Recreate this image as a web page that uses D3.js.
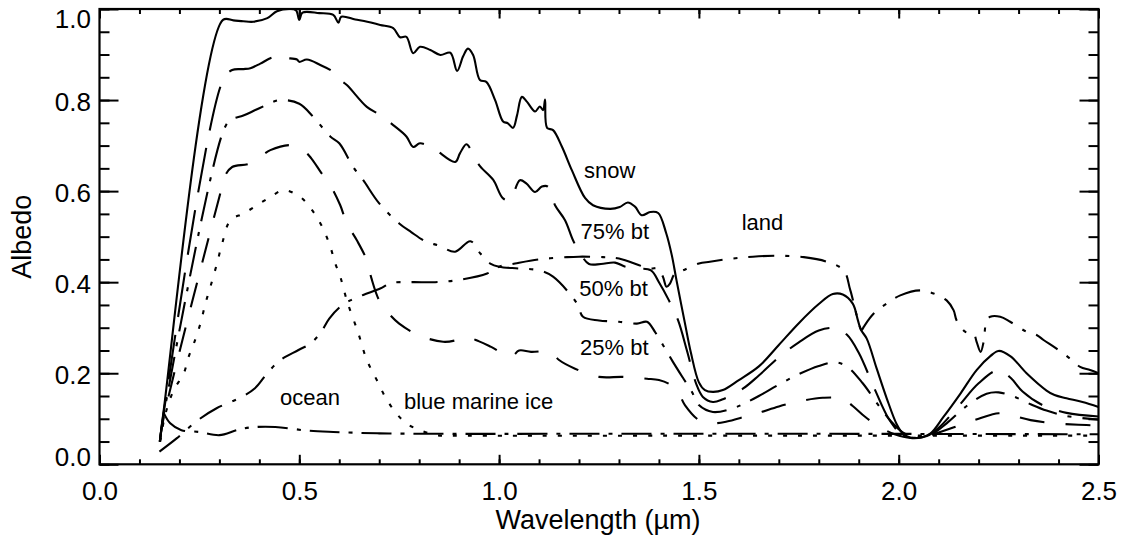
<!DOCTYPE html>
<html>
<head>
<meta charset="utf-8">
<script src="https://cdn.jsdelivr.net/npm/d3@7"></script>
<style>
  body { margin: 0; background: #fff; }
  svg { display: block; }
  text { font-family: "Liberation Sans", Arial, Helvetica, sans-serif; fill: #000; }
</style>
</head>
<body>
<svg id="chart" width="1124" height="538"></svg>
<script>
// Axis ticks
const wavelengthTicks = [0.0, 0.5, 1.0, 1.5, 2.0, 2.5];
const wavelengthMinorTicks = d3.range(0, 2.51, 0.1).map(v => +v.toFixed(2));
const albedoTicks = [0.0, 0.2, 0.4, 0.6, 0.8, 1.0];
const albedoMinorTicks = d3.range(0, 1.001, 0.05).map(v => +v.toFixed(2));

// Spectral albedo, [wavelength (µm), albedo]
const snowAlbedo = [[0.151,0.05],[0.16,0.114],[0.309,0.976],[0.335,0.975],[0.36,0.973],[0.385,0.972],[0.42,0.98],[0.444,0.995],[0.478,1.0],[0.492,0.997],[0.5,0.976],[0.508,0.992],[0.55,0.991],[0.585,0.987],[0.598,0.97],[0.605,0.983],[0.64,0.977],[0.67,0.972],[0.7025,0.965],[0.735,0.958],[0.752,0.938],[0.768,0.939],[0.785,0.903],[0.802,0.917],[0.828,0.91],[0.853,0.899],[0.878,0.904],[0.895,0.864],[0.91,0.896],[0.922,0.913],[0.935,0.899],[0.952,0.844],[0.968,0.84],[0.99,0.8],[1.01,0.753],[1.022,0.749],[1.035,0.739],[1.045,0.767],[1.057,0.807],[1.07,0.796],[1.09,0.775],[1.102,0.786],[1.11,0.778],[1.115,0.801],[1.12,0.739],[1.135,0.734],[1.157,0.698],[1.182,0.646],[1.215,0.585],[1.235,0.569],[1.278,0.561],[1.302,0.565],[1.322,0.575],[1.34,0.566],[1.357,0.547],[1.378,0.554],[1.398,0.552],[1.418,0.508],[1.432,0.46],[1.444,0.404],[1.465,0.31],[1.48,0.245],[1.5,0.18],[1.515,0.163],[1.535,0.159],[1.56,0.163],[1.6,0.185],[1.65,0.215],[1.7,0.262],[1.75,0.31],[1.8,0.352],[1.835,0.374],[1.86,0.373],[1.885,0.353],[1.898,0.316],[1.905,0.296],[1.92,0.276],[1.945,0.21],[1.97,0.145],[1.995,0.088],[2.01,0.068],[2.03,0.058],[2.06,0.06],[2.08,0.068],[2.112,0.104],[2.155,0.156],[2.195,0.207],[2.23,0.238],[2.25,0.249],[2.28,0.237],[2.32,0.2],[2.37,0.162],[2.39,0.152],[2.42,0.145],[2.46,0.137],[2.5,0.126]];

const bt75Albedo = [[0.151,0.05],[0.16,0.11],[0.309,0.844],[0.332,0.866],[0.36,0.868],[0.3775,0.87],[0.4025,0.88],[0.435,0.894],[0.47,0.892],[0.494,0.889],[0.5,0.884],[0.519,0.889],[0.5525,0.877],[0.585,0.862],[0.6025,0.844],[0.619,0.833],[0.669,0.785],[0.7025,0.767],[0.735,0.745],[0.768,0.72],[0.785,0.697],[0.802,0.705],[0.835,0.694],[0.89,0.664],[0.902,0.683],[0.918,0.703],[0.93,0.69],[0.947,0.661],[0.957,0.65],[0.985,0.625],[1.01,0.584],[1.027,0.58],[1.052,0.624],[1.068,0.617],[1.09,0.598],[1.107,0.61],[1.122,0.61],[1.14,0.569],[1.165,0.536],[1.185,0.492],[1.203,0.463],[1.225,0.44],[1.255,0.44],[1.29,0.443],[1.316,0.434],[1.345,0.43],[1.38,0.426],[1.40,0.40],[1.425,0.36],[1.448,0.316],[1.47,0.25],[1.494,0.175],[1.51,0.148],[1.535,0.137],[1.56,0.143],[1.61,0.166],[1.65,0.195],[1.7,0.235],[1.75,0.268],[1.8,0.294],[1.84,0.299],[1.87,0.285],[1.9,0.245],[1.94,0.165],[1.975,0.1],[2.005,0.068],[2.04,0.058],[2.07,0.062],[2.1,0.08],[2.15,0.128],[2.2,0.178],[2.25,0.207],[2.28,0.19],[2.31,0.16],[2.36,0.13],[2.42,0.113],[2.5,0.105]];

const bt50Albedo = [[0.151,0.05],[0.16,0.105],[0.309,0.73],[0.3275,0.756],[0.36,0.766],[0.39,0.778],[0.42,0.79],[0.45,0.80],[0.5,0.792],[0.535,0.763],[0.5775,0.72],[0.6,0.705],[0.635,0.653],[0.66,0.624],[0.7,0.573],[0.75,0.529],[0.78,0.51],[0.815,0.49],[0.85,0.48],[0.89,0.467],[0.928,0.49],[0.953,0.463],[0.978,0.441],[1.0,0.434],[1.05,0.43],[1.1,0.426],[1.135,0.412],[1.195,0.353],[1.21,0.324],[1.25,0.316],[1.3,0.313],[1.345,0.309],[1.37,0.313],[1.39,0.291],[1.41,0.262],[1.435,0.225],[1.46,0.19],[1.482,0.16],[1.5,0.13],[1.535,0.115],[1.585,0.123],[1.6125,0.133],[1.65,0.15],[1.7,0.175],[1.75,0.198],[1.8,0.216],[1.84,0.224],[1.87,0.215],[1.91,0.178],[1.945,0.135],[1.98,0.095],[2.01,0.07],[2.04,0.06],[2.08,0.065],[2.12,0.09],[2.17,0.128],[2.22,0.155],[2.25,0.158],[2.29,0.148],[2.33,0.132],[2.37,0.118],[2.42,0.106],[2.5,0.098]];

const bt25Albedo = [[0.151,0.05],[0.16,0.1],[0.309,0.617],[0.315,0.635],[0.332,0.653],[0.3775,0.661],[0.4275,0.69],[0.48,0.701],[0.51,0.69],[0.53,0.672],[0.555,0.64],[0.5775,0.613],[0.6025,0.569],[0.619,0.529],[0.644,0.492],[0.669,0.448],[0.68,0.41],[0.7,0.36],[0.725,0.33],[0.75,0.309],[0.8,0.283],[0.86,0.269],[0.89,0.272],[0.915,0.28],[0.95,0.27],[0.98,0.258],[1.03,0.236],[1.05,0.25],[1.08,0.247],[1.13,0.247],[1.15,0.229],[1.19,0.21],[1.25,0.192],[1.31,0.192],[1.37,0.188],[1.40,0.185],[1.43,0.174],[1.45,0.155],[1.465,0.13],[1.5,0.097],[1.53,0.09],[1.57,0.094],[1.6125,0.104],[1.65,0.113],[1.7,0.127],[1.75,0.138],[1.81,0.146],[1.86,0.144],[1.885,0.128],[1.915,0.105],[1.95,0.083],[1.99,0.066],[2.03,0.058],[2.07,0.062],[2.1,0.07],[2.15,0.085],[2.2,0.1],[2.25,0.112],[2.28,0.108],[2.33,0.097],[2.39,0.09],[2.45,0.087],[2.5,0.085]];

const blueIceAlbedo = [[0.152,0.05],[0.162,0.1],[0.173,0.134],[0.187,0.165],[0.211,0.2],[0.223,0.236],[0.236,0.265],[0.2525,0.309],[0.265,0.353],[0.2775,0.39],[0.294,0.441],[0.307,0.485],[0.3275,0.536],[0.361,0.551],[0.394,0.569],[0.4275,0.587],[0.46,0.602],[0.5025,0.587],[0.532,0.558],[0.557,0.522],[0.5775,0.478],[0.59,0.441],[0.6025,0.412],[0.619,0.36],[0.648,0.287],[0.669,0.229],[0.694,0.185],[0.715,0.148],[0.74,0.115],[0.769,0.089],[0.8025,0.075],[0.844,0.064],[0.9,0.063],[1.5,0.063],[2.0,0.063],[2.5,0.063]];

const landAlbedo = [[0.15,0.028],[0.193,0.057],[0.2465,0.097],[0.293,0.123],[0.356,0.148],[0.389,0.167],[0.419,0.199],[0.4525,0.229],[0.498,0.251],[0.5275,0.265],[0.5525,0.288],[0.575,0.32],[0.6025,0.346],[0.6275,0.36],[0.66,0.372],[0.7025,0.386],[0.73,0.398],[0.78,0.4],[0.84,0.4],[0.9,0.405],[0.97,0.419],[1.0,0.434],[1.04,0.441],[1.1,0.45],[1.17,0.455],[1.2,0.456],[1.26,0.455],[1.3,0.452],[1.3775,0.43],[1.3975,0.43],[1.41,0.412],[1.419,0.39],[1.4275,0.397],[1.44,0.419],[1.46,0.426],[1.5,0.441],[1.5275,0.445],[1.585,0.452],[1.635,0.456],[1.695,0.458],[1.7625,0.455],[1.82,0.445],[1.8625,0.426],[1.879,0.382],[1.9075,0.295],[1.9125,0.302],[1.9375,0.331],[1.97,0.353],[2.004,0.371],[2.054,0.382],[2.0875,0.375],[2.12,0.36],[2.1375,0.338],[2.145,0.316],[2.167,0.291],[2.1875,0.287],[2.195,0.269],[2.205,0.247],[2.2125,0.269],[2.22,0.316],[2.229,0.324],[2.254,0.324],[2.279,0.313],[2.32,0.291],[2.345,0.284],[2.3625,0.273],[2.395,0.254],[2.429,0.232],[2.454,0.214],[2.479,0.207],[2.5,0.2]];

const oceanAlbedo = [[0.16,0.114],[0.177,0.09],[0.205,0.075],[0.25,0.071],[0.3,0.064],[0.344,0.075],[0.3775,0.081],[0.44,0.082],[0.52,0.074],[0.585,0.071],[0.7,0.068],[0.85,0.067],[1.2,0.067],[1.8,0.067],[2.5,0.066]];

// Curve names and where their names are written, [wavelength, albedo]
const curveNames = ["snow", "75% bt", "50% bt", "25% bt", "land", "ocean", "blue marine ice"];
const curveNameAnchors = [[1.2125,0.629],[1.204,0.494],[1.2007,0.3697],[1.2025,0.24],[1.607,0.5146],[0.4517,0.1302],[0.762,0.1204]];

const series = [
  { values: snowAlbedo,    dash: null },
  { values: bt75Albedo,    dash: "45,18" },
  { values: bt50Albedo,    dash: "30,11,4,11" },
  { values: bt25Albedo,    dash: "25,21" },
  { values: blueIceAlbedo, dash: "4,11" },
  { values: landAlbedo,    dash: "26,11,4,11" },
  { values: oceanAlbedo,   dash: "30,9,4,9" }
];

const svg = d3.select("#chart");
svg.append("rect").attr("width", 1124).attr("height", 538).attr("fill", "#fff");

const plotLeft = 99.5, plotRight = 1098.5, plotTop = 9, plotBottom = 464.3;
const x = d3.scaleLinear().domain([0, 2.5]).range([plotLeft, plotRight]);
const y = d3.scaleLinear().domain([0, 1]).range([plotBottom, plotTop]);

// Curves
const line = d3.line()
  .x(d => x(d[0]))
  .y(d => y(d[1]))
  .curve(d3.curveCatmullRom.alpha(0.5));

svg.append("g").selectAll("path.curve")
  .data(series)
  .join("path")
  .attr("class", "curve")
  .attr("d", d => line(d.values))
  .attr("fill", "none")
  .attr("stroke", "#000")
  .attr("stroke-width", 2.1)
  .attr("stroke-linejoin", "round")
  .attr("stroke-dasharray", d => d.dash);

// Axes: ticks point inward on all four sides
function styleAxis(g) {
  g.select(".domain").remove();
  g.selectAll(".tick line").attr("stroke", "#000").attr("stroke-width", 2);
}

const xMajorLen = 9.5, xMinorLen = 5, yMajorLen = 19, yMinorLen = 10;

svg.append("g").attr("transform", `translate(0,${plotBottom})`)
  .call(d3.axisBottom(x).tickValues(wavelengthMinorTicks).tickSize(-xMinorLen).tickFormat(""))
  .call(styleAxis);
svg.append("g").attr("transform", `translate(0,${plotTop})`)
  .call(d3.axisTop(x).tickValues(wavelengthMinorTicks).tickSize(-xMinorLen).tickFormat(""))
  .call(styleAxis);
svg.append("g").attr("transform", `translate(0,${plotTop})`)
  .call(d3.axisTop(x).tickValues(wavelengthTicks).tickSize(-xMajorLen).tickFormat(""))
  .call(styleAxis);
const xAxis = svg.append("g").attr("transform", `translate(0,${plotBottom})`)
  .call(d3.axisBottom(x).tickValues(wavelengthTicks).tickSize(-xMajorLen).tickFormat(d3.format(".1f")))
  .call(styleAxis);
xAxis.selectAll(".tick text")
  .attr("y", 35.7).attr("dy", null)
  .attr("font-size", 26).attr("fill", "#000")
  .style("font-family", '"Liberation Sans", Arial, sans-serif');

svg.append("g").attr("transform", `translate(${plotLeft},0)`)
  .call(d3.axisLeft(y).tickValues(albedoMinorTicks).tickSize(-yMinorLen).tickFormat(""))
  .call(styleAxis);
svg.append("g").attr("transform", `translate(${plotRight},0)`)
  .call(d3.axisRight(y).tickValues(albedoMinorTicks).tickSize(-yMinorLen).tickFormat(""))
  .call(styleAxis);
svg.append("g").attr("transform", `translate(${plotRight},0)`)
  .call(d3.axisRight(y).tickValues(albedoTicks).tickSize(-yMajorLen).tickFormat(""))
  .call(styleAxis);
const yAxis = svg.append("g").attr("transform", `translate(${plotLeft},0)`)
  .call(d3.axisLeft(y).tickValues(albedoTicks).tickSize(-yMajorLen).tickFormat(d3.format(".1f")))
  .call(styleAxis);
yAxis.selectAll(".tick text")
  .attr("x", -8.5)
  .attr("dy", d => d === 1 ? 18 : (d === 0 ? 1 : 10))
  .attr("font-size", 26).attr("fill", "#000")
  .style("font-family", '"Liberation Sans", Arial, sans-serif');

// Frame
svg.append("rect")
  .attr("x", plotLeft).attr("y", plotTop)
  .attr("width", plotRight - plotLeft).attr("height", plotBottom - plotTop)
  .attr("fill", "none").attr("stroke", "#000").attr("stroke-width", 2.2);

// Axis titles
svg.append("text")
  .attr("x", (plotLeft + plotRight) / 2 - 1).attr("y", 529)
  .attr("text-anchor", "middle").attr("font-size", 27)
  .text("Wavelength (µm)");
svg.append("text")
  .attr("transform", `translate(31,${(plotTop + plotBottom) / 2}) rotate(-90)`)
  .attr("text-anchor", "middle").attr("font-size", 27)
  .text("Albedo");

// Curve names
svg.selectAll("text.curve-name")
  .data(curveNames)
  .join("text")
  .attr("class", "curve-name")
  .attr("x", (d, i) => x(curveNameAnchors[i][0]))
  .attr("y", (d, i) => y(curveNameAnchors[i][1]))
  .attr("font-size", 22)
  .text(d => d);
</script>
</body>
</html>
